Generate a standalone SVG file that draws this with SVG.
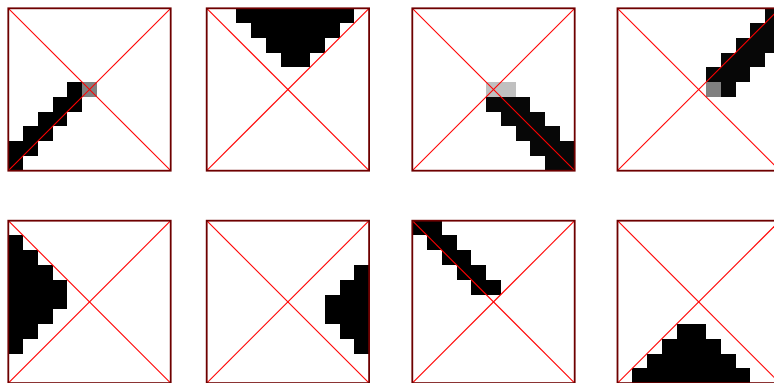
<svg xmlns="http://www.w3.org/2000/svg" xmlns:xlink="http://www.w3.org/1999/xlink" width="774" height="383" viewBox="0 0 774 383">
<style>
.blk{fill:#000000;shape-rendering:crispEdges}
.dk{fill:#070707;shape-rendering:crispEdges}
.g1{fill:#808080}
.g2{fill:#c0c0c0}
.diag{stroke:#ff0000;stroke-width:1.1;fill:none}
.frm{stroke:#6e0000;stroke-width:1.8;fill:none}
</style>
<defs>
<g id="frame">
<line class="diag" x1="0" y1="0" x2="162.4" y2="162.4"/>
<line class="diag" x1="0" y1="162.4" x2="162.4" y2="0"/>
<rect class="frm" x="0" y="0" width="162.4" height="162.4"/>
</g>
</defs>
<rect width="774" height="383" fill="#ffffff"/>
<g id="panel1">
<g transform="translate(8.3,8.3) scale(14.764)" class="blk">
<rect x="4" y="5" width="1" height="1"/>
<rect x="3" y="6" width="2" height="1"/>
<rect x="2" y="7" width="2" height="1"/>
<rect x="1" y="8" width="2" height="1"/>
<rect x="0" y="9" width="2" height="1"/>
<rect x="0" y="10" width="1" height="1"/>
<rect class="g1" x="5" y="5" width="1" height="1"/>
</g>
<use xlink:href="#frame" x="8.3" y="8.3"/>
</g>
<g id="panel2">
<g transform="translate(206.7,8.3) scale(14.764)" class="blk">
<rect x="2" y="0" width="8" height="1"/>
<rect x="3" y="1" width="6" height="1"/>
<rect x="4" y="2" width="4" height="1"/>
<rect x="5" y="3" width="2" height="1"/>
</g>
<use xlink:href="#frame" x="206.7" y="8.3"/>
</g>
<g id="panel3">
<g transform="translate(412.3,8.3) scale(14.764)" class="dk">
<rect class="g2" x="5" y="5" width="2" height="1"/>
<rect x="5" y="6" width="3" height="1"/>
<rect x="6" y="7" width="3" height="1"/>
<rect x="7" y="8" width="3" height="1"/>
<rect x="8" y="9" width="3" height="1"/>
<rect x="9" y="10" width="2" height="1"/>
</g>
<use xlink:href="#frame" x="412.3" y="8.3"/>
</g>
<g id="panel4">
<g transform="translate(617.5,8.3) scale(14.764)" class="dk">
<rect x="10" y="0" width="1" height="1"/>
<rect x="9" y="1" width="2" height="1"/>
<rect x="8" y="2" width="3" height="1"/>
<rect x="7" y="3" width="3" height="1"/>
<rect x="6" y="4" width="3" height="1"/>
<rect class="g1" x="6" y="5" width="1" height="1"/>
<rect x="7" y="5" width="1" height="1"/>
</g>
<use xlink:href="#frame" x="617.5" y="8.3"/>
</g>
<g id="panel5">
<g transform="translate(8.3,220.7) scale(14.764)" class="blk">
<rect x="0" y="1" width="1" height="1"/>
<rect x="0" y="2" width="2" height="1"/>
<rect x="0" y="3" width="3" height="1"/>
<rect x="0" y="4" width="4" height="1"/>
<rect x="0" y="5" width="4" height="1"/>
<rect x="0" y="6" width="3" height="1"/>
<rect x="0" y="7" width="2" height="1"/>
<rect x="0" y="8" width="1" height="1"/>
</g>
<use xlink:href="#frame" x="8.3" y="220.7"/>
</g>
<g id="panel6">
<g transform="translate(206.7,220.7) scale(14.764)" class="blk">
<rect x="10" y="3" width="1" height="1"/>
<rect x="9" y="4" width="2" height="1"/>
<rect x="8" y="5" width="3" height="1"/>
<rect x="8" y="6" width="3" height="1"/>
<rect x="9" y="7" width="2" height="1"/>
<rect x="10" y="8" width="1" height="1"/>
</g>
<use xlink:href="#frame" x="206.7" y="220.7"/>
</g>
<g id="panel7">
<g transform="translate(412.3,220.7) scale(14.764)" class="blk">
<rect x="0" y="0" width="2" height="1"/>
<rect x="1" y="1" width="2" height="1"/>
<rect x="2" y="2" width="2" height="1"/>
<rect x="3" y="3" width="2" height="1"/>
<rect x="4" y="4" width="2" height="1"/>
</g>
<use xlink:href="#frame" x="412.3" y="220.7"/>
</g>
<g id="panel8">
<g transform="translate(617.5,220.7) scale(14.764)" class="blk">
<rect x="4" y="7" width="2" height="1"/>
<rect x="3" y="8" width="4" height="1"/>
<rect x="2" y="9" width="6" height="1"/>
<rect x="1" y="10" width="8" height="1"/>
</g>
<use xlink:href="#frame" x="617.5" y="220.7"/>
</g>
<g id="connectors"/>
</svg>
